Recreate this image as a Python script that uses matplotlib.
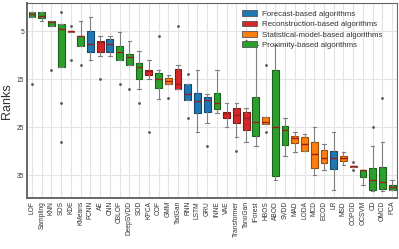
import numpy as np
import matplotlib
matplotlib.use("Agg")
import matplotlib.pyplot as plt
import matplotlib.colors as mcolors
from matplotlib.patches import Patch

plt.rcParams['font.family'] = ['Liberation Sans', 'DejaVu Sans']

names = ["LOF", "Sampling", "KNN", "SOS", "KDE", "KMeans", "FCNN", "AE", "CNN", "CBLOF",
         "DeepSVDD", "SOD", "KPCA", "COF", "GMM", "TadGan", "RNN", "LSTM", "GRU", "INNE",
         "VAE", "Transformer", "TanoGan", "IForest", "HBOS", "ABOD", "SVDD", "MAD", "LODA", "MCD",
         "ECOD", "LR", "MSD", "COPOD", "OCSVM", "CD", "OMCD", "PCA"]

# F = forecast, R = reconstruction, S = statistical-model, P = proximity
groups = ["P", "P", "P", "P", "S", "P", "F", "R", "F", "P",
          "P", "P", "R", "P", "S", "R", "F", "F", "F", "P",
          "R", "R", "R", "P", "S", "P", "P", "S", "S", "S",
          "S", "F", "S", "S", "P", "P", "P", "P"]

whis_lo = [1.1, 1.1, 3.0, 3.6, 4.9, 3.0, 2.1, 6.1, 6.1, 5.1,
           7.1, 9.1, 11.1, 13.0, 14.1, 12.1, 16.1, 13.0, 18.0, 13.0,
           20.0, 20.0, 21.1, 8.0, 22.9, 8.0, 23.0, 26.1, 26.5, 25.0,
           28.6, 26.1, 30.1, 33.0, 34.0, 29.0, 28.0, 36.1]
q1 = [1.1, 1.1, 3.0, 3.6, 4.9, 6.0, 4.9, 7.1, 6.7, 8.05,
      9.8, 11.7, 13.0, 13.8, 14.85, 12.9, 16.1, 17.8, 18.7, 17.9,
      21.8, 21.1, 21.8, 18.8, 22.9, 13.0, 24.8, 26.8, 27.0, 28.0,
      29.7, 29.9, 31.0, 33.0, 34.0, 33.5, 33.3, 37.1]
med = [1.5, 1.9, 3.1, 4.6, 5.0, 6.1, 7.6, 7.35, 7.6, 9.4,
       10.3, 12.55, 13.4, 15.0, 15.4, 16.0, 18.0, 19.5, 19.4, 20.0,
       22.1, 22.5, 23.0, 24.0, 23.9, 25.0, 25.6, 27.2, 28.5, 30.6,
       31.5, 31.5, 31.5, 33.0, 34.0, 36.0, 36.5, 37.5]
q3 = [2.1, 2.3, 4.0, 12.5, 5.1, 8.1, 9.3, 9.3, 9.3, 11.1,
      12.0, 14.9, 14.2, 16.8, 16.1, 17.1, 19.3, 22.0, 21.8, 21.2,
      23.2, 24.1, 25.5, 26.8, 24.3, 35.2, 28.8, 28.3, 30.0, 33.5,
      32.5, 33.75, 32.0, 33.3, 35.3, 38.0, 37.9, 38.1]
whis_hi = [2.1, 3.0, 4.0, 12.5, 5.1, 8.1, 11.1, 10.1, 10.1, 11.1,
           12.0, 17.0, 15.0, 19.1, 16.1, 17.1, 19.3, 26.1, 24.1, 22.0,
           25.0, 27.0, 28.0, 29.0, 24.3, 36.0, 31.0, 30.1, 30.0, 35.0,
           34.0, 38.1, 32.9, 33.3, 37.0, 38.2, 38.2, 38.1]
outliers = [[16], [], [13], [1, 20, 28], [4, 11], [12], [], [15], [], [16],
            [17], [20], [26], [6], [19], [4], [14, 23], [], [29], [],
            [], [30], [7], [], [12, 26], [], [], [], [], [],
            [], [], [], [32.2, 34], [], [25], [19], []]

legend_labels = ["Forecast-based algorithms", "Reconstruction-based algorithms",
                 "Statistical-model-based algorithms", "Proximity-based algorithms"]
group_colors = {"F": "#1f77b4", "R": "#d62728", "S": "#ff7f0e", "P": "#2ca02c"}

stats = []
for i in range(len(names)):
    stats.append({'whislo': whis_lo[i], 'q1': q1[i], 'med': med[i], 'q3': q3[i],
                  'whishi': whis_hi[i], 'fliers': outliers[i], 'label': names[i]})

fig = plt.figure(figsize=(3.99, 2.49), dpi=100)
ax = fig.add_axes([0.068, 0.204, 0.927, 0.783])

x = np.arange(len(names))
bp = ax.bxp(stats, positions=x, widths=0.7, patch_artist=True, showfliers=True,
            boxprops=dict(linewidth=0.8),
            whiskerprops=dict(color='#808080', linewidth=0.8),
            capprops=dict(color='#808080', linewidth=0.8),
            medianprops=dict(color='#9b1c1c', linewidth=1.0),
            flierprops=dict(marker='o', markersize=1.0, markerfacecolor='#555555',
                            markeredgecolor='#555555', linestyle='none'))

for box, g in zip(bp['boxes'], groups):
    c = np.array(mcolors.to_rgb(group_colors[g]))
    box.set_facecolor(c)
    box.set_edgecolor(c * 0.6)

ax.set_xlim(-0.5, len(names) - 0.5)
ax.set_ylim(39.8, -0.8)
ax.set_yticks([5, 15, 25, 35])
ax.set_xticks(x)
ax.set_xticklabels(names, rotation=90)
ax.tick_params(length=0, labelsize=4.8, labelcolor='#333333', pad=2)
ax.grid(True, color='#e3e3e3', linewidth=0.8)
ax.set_axisbelow(True)
for s in ax.spines.values():
    s.set_color('#666666')
    s.set_linewidth(0.8)
ax.spines['left'].set_linewidth(1.4)
ax.spines['bottom'].set_linewidth(1.4)
ax.set_ylabel("Ranks", fontsize=9, color='#333333', labelpad=3)

handles = [Patch(facecolor=group_colors[g], edgecolor='#555555', linewidth=0.6)
           for g in ["F", "R", "S", "P"]]
ax.legend(handles, legend_labels, loc='upper right', bbox_to_anchor=(0.98, 1.0),
          frameon=False, fontsize=5.7, labelspacing=0.35, handlelength=1.9,
          handleheight=0.7, handletextpad=0.6, labelcolor='#333333')

fig.savefig("out.png", dpi=100)
